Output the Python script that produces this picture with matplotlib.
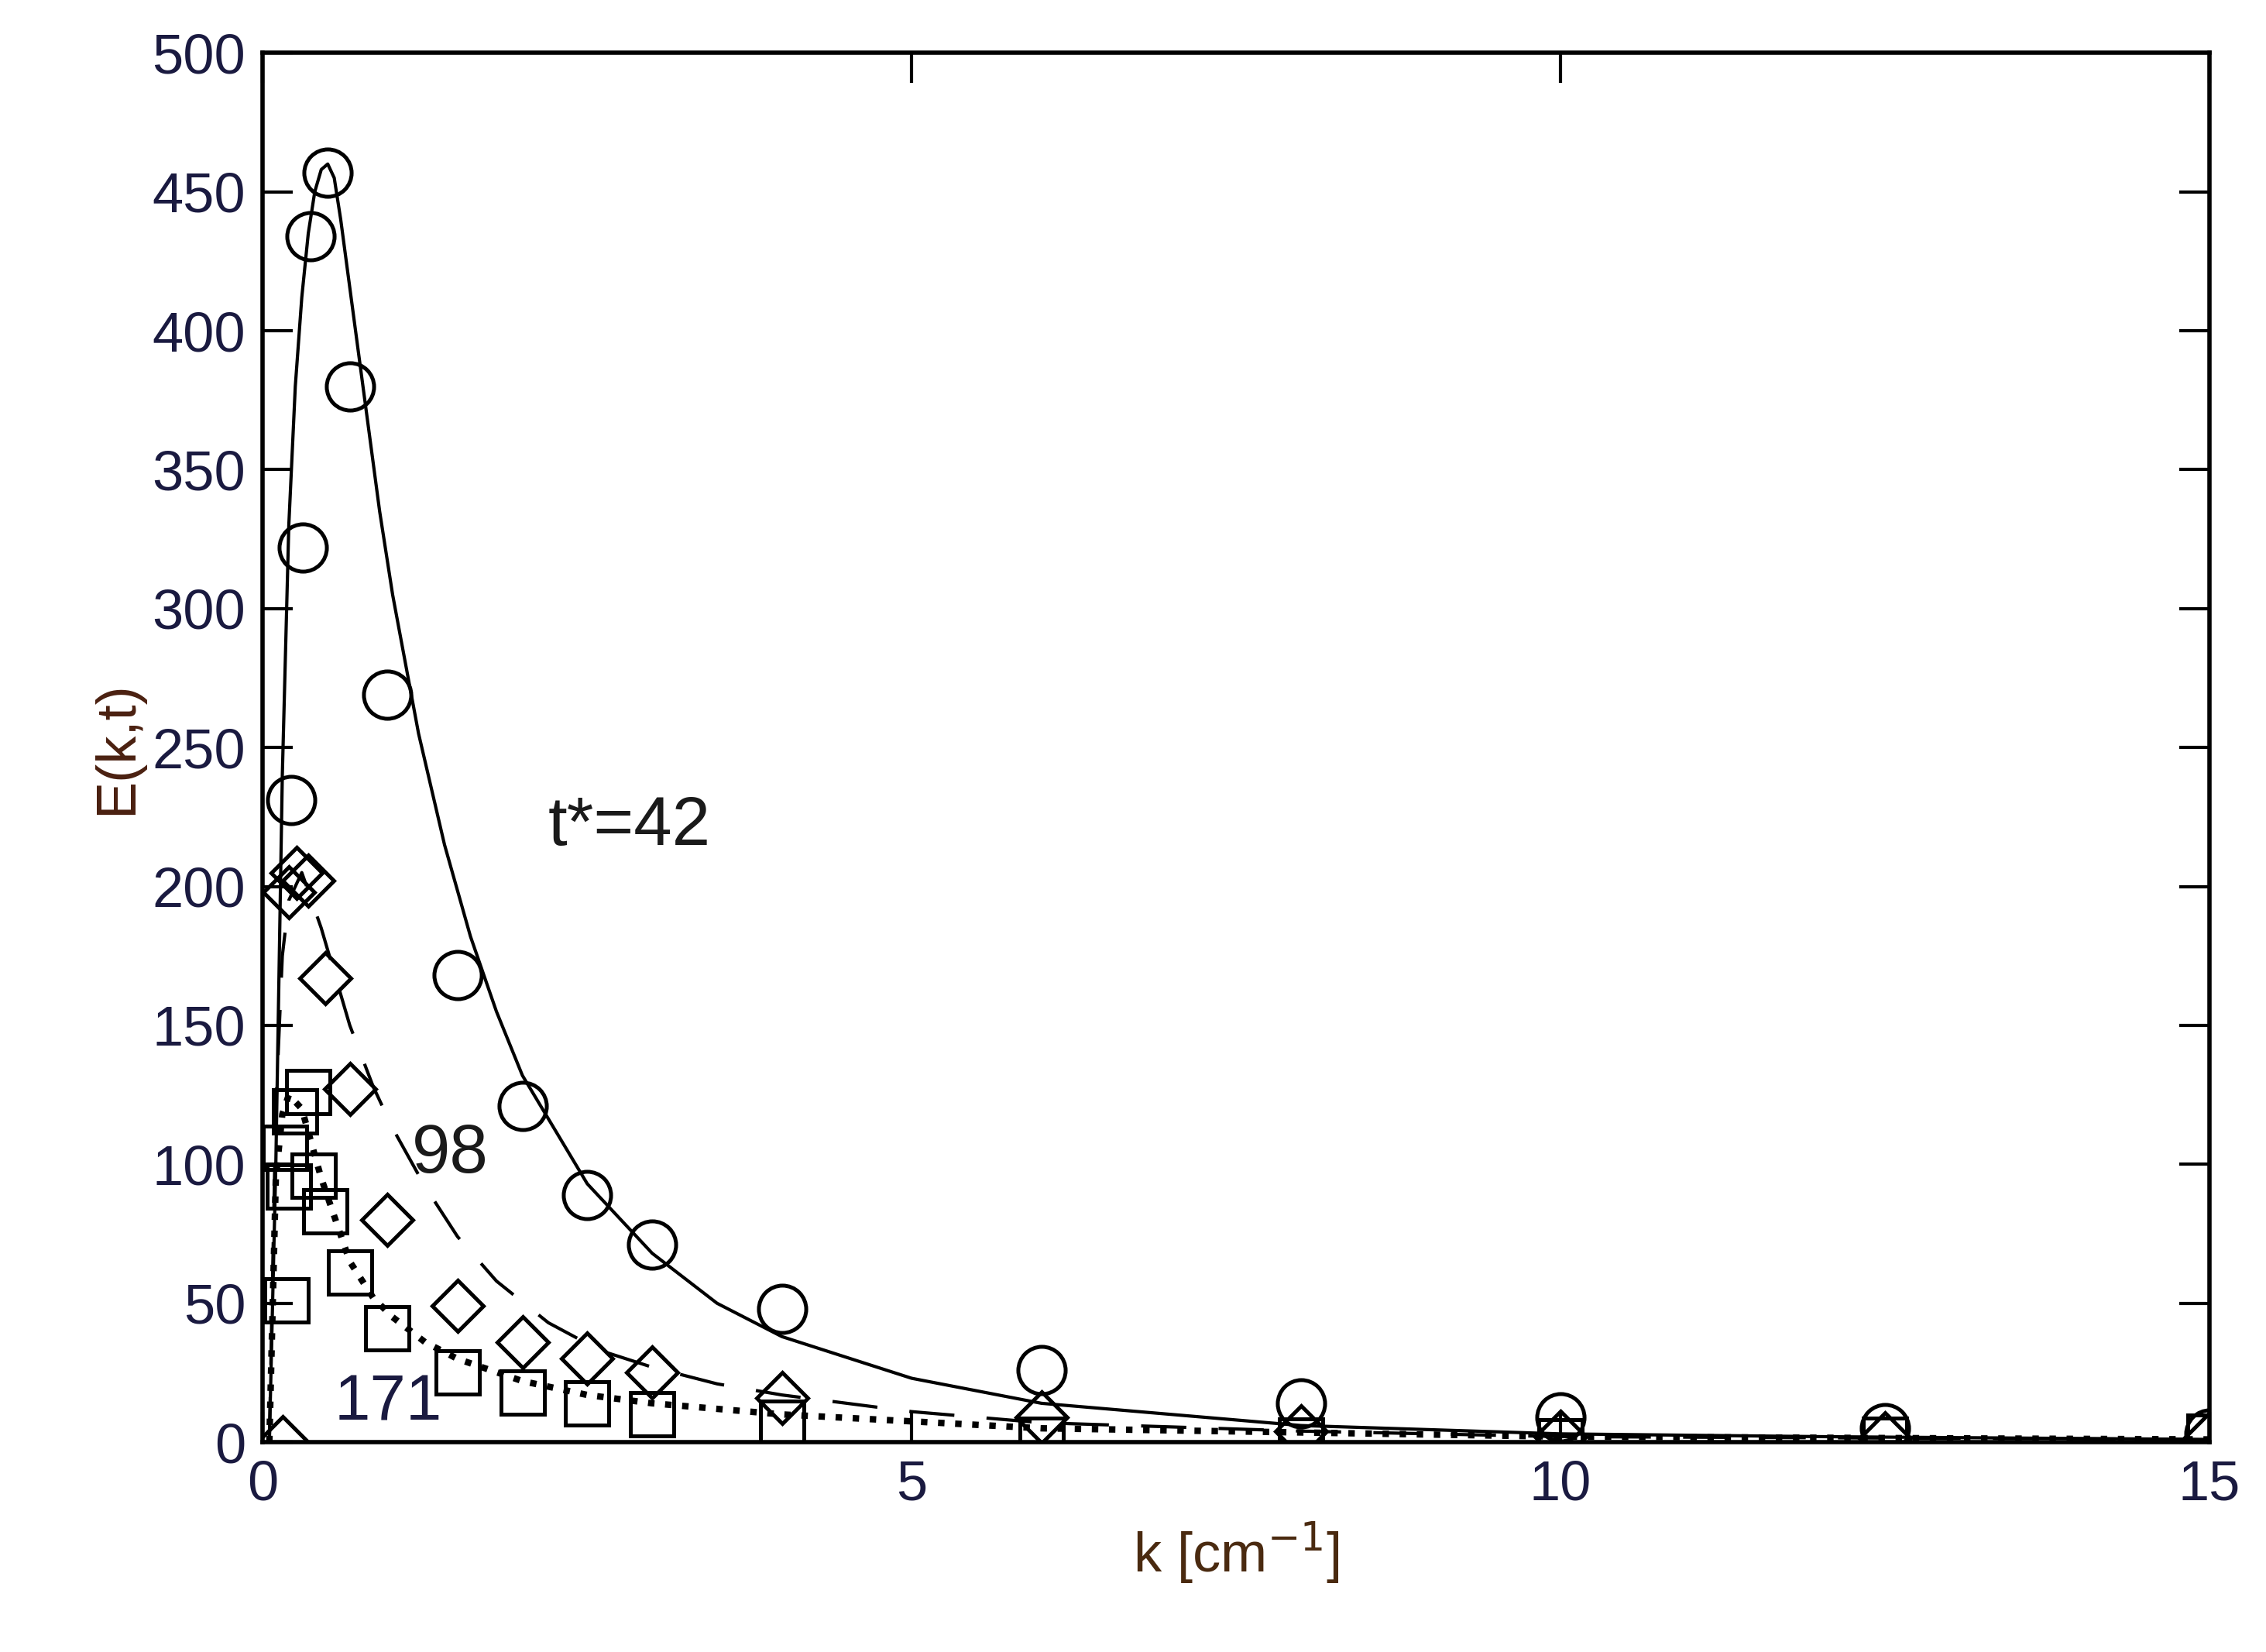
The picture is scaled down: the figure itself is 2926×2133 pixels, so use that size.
import matplotlib.pyplot as plt

plt.rcParams['font.family'] = ['Liberation Sans', 'DejaVu Sans']

# markers (measured data)
k_c = [0.22, 0.31, 0.37, 0.5, 0.67, 0.96, 1.5, 2.0, 2.5, 3.0, 4.0, 6.0, 8.0, 10.0, 12.5, 15.0]
E_c = [231, 322, 434, 457, 380, 269, 168, 121, 89, 71, 48, 26, 14, 9, 5, 3]
k_d = [0.15, 0.2, 0.26, 0.35, 0.48, 0.67, 0.96, 1.5, 2.0, 2.5, 3.0, 4.0, 6.0, 8.0, 10.0, 12.5, 15.0]
E_d = [0, 198, 205, 202, 167, 127, 80, 49, 36, 30, 25, 16, 9, 4, 2, 1.5, 1.5]
k_s = [0.18, 0.17, 0.2, 0.25, 0.35, 0.39, 0.48, 0.67, 0.96, 1.5, 2.0, 2.5, 3.0, 4.0, 6.0, 8.0, 10.0, 12.5, 15.0]
E_s = [51, 106, 92, 119, 126, 96, 83, 61, 41, 25, 18, 14, 10, 7, 1, 0.5, 0.3, 1, 2]

# model curves
k_l42 = [0.05, 0.1, 0.15, 0.2, 0.25, 0.3, 0.35, 0.4, 0.45, 0.5, 0.55, 0.6, 0.7, 0.8, 0.9, 1.0,
         1.2, 1.4, 1.6, 1.8, 2.0, 2.5, 3.0, 3.5, 4.0, 5.0, 6.0, 8.0, 10.0, 12.0, 15.0]
E_l42 = [0, 100, 240, 330, 380, 412, 435, 450, 458, 460, 455, 440, 405, 370, 335, 305,
         255, 215, 182, 155, 132, 93, 68, 50, 38, 23, 14, 6, 3, 2, 1]
k_l98 = [0.05, 0.1, 0.15, 0.2, 0.3, 0.45, 0.67, 0.85, 1.0, 1.25, 1.5, 1.8, 2.2, 2.6, 3.0, 3.5, 4.0, 5.0, 6.0, 8.0, 10.0, 15.0]
E_l98 = [0, 120, 175, 195, 205, 185, 150, 128, 113, 92, 74, 58, 43, 33, 27, 21, 17, 11, 7, 4, 2, 1]
k_l171 = [0.05, 0.1, 0.15, 0.2, 0.3, 0.45, 0.67, 0.85, 1.0, 1.25, 1.5, 2.0, 2.5, 3.0, 4.0, 6.0, 10.0, 15.0]
E_l171 = [0, 95, 118, 125, 120, 95, 65, 52, 45, 36, 30, 22, 17, 14, 10, 5, 2, 1]

fig = plt.figure(figsize=(14.63, 10.665), dpi=200)
ax = fig.add_axes([0.116, 0.127, 0.859, 0.841])

ax.plot(k_l42, E_l42, '-', color='black', lw=1.5)
ax.plot(k_l98, E_l98, color='black', lw=1.5, dashes=(14, 10))
ax.plot(k_l171, E_l171, ':', color='black', lw=3)
mk = dict(linestyle='none', mfc='none', mec='black', mew=1.8, ms=22)
ax.plot(k_c, E_c, marker='o', **mk)
ax.plot(k_d, E_d, marker='D', **dict(mk, ms=17))
ax.plot(k_s, E_s, marker='s', **dict(mk, ms=20))

ax.text(2.2, 215, 't*=42', fontsize=32, color='#1a1a1a')
ax.text(1.15, 97, '98', fontsize=32, color='#1a1a1a')
ax.text(0.55, 8, '171', fontsize=30, color='#1a1a40')

ax.set_xlim(0, 15)
ax.set_ylim(0, 500)
ax.set_xticks([0, 5, 10, 15])
ax.set_yticks(range(0, 501, 50))
ax.tick_params(direction='in', length=14, width=1.5, top=True, right=True,
               labelsize=26, labelcolor='#1a1a40', pad=8)
for s in ax.spines.values():
    s.set_linewidth(2)
ax.set_xlabel('k [cm$^{-1}$]', fontsize=26, color='#4a2a10')
ax.set_ylabel('E(k,t)', fontsize=26, color='#4a2010')

plt.savefig('out.png', dpi=200)
